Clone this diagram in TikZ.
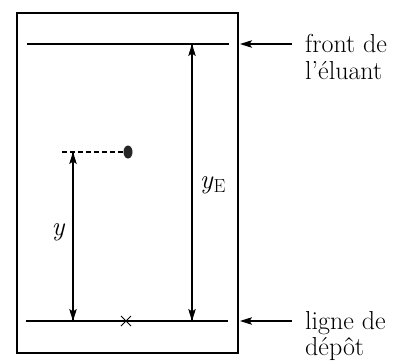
\documentclass[tikz,border=0pt]{standalone}
\usepackage{fontspec}
\usetikzlibrary{arrows.meta,shapes.geometric,calc}
\begin{document}
\begin{tikzpicture}[x=1pt,y=-1pt,
  tip/.style={-{Stealth[length=12pt,width=7.5pt,inset=2.5pt]}},
  lbl/.style={anchor=base west,inner sep=0pt,font=\fontsize{26}{30}\selectfont},
  lw/.style={line width=1.1pt}]
\useasboundingbox (0,0) rectangle (402,360);
\draw[lw] (17,13) rectangle (238,353);
% lines
\coordinate (fl) at (27,44); \coordinate (fr) at (229,44);
\coordinate (dl) at (26,321); \coordinate (dr) at (228,321);
\draw[lw] (fl) -- (fr);
\draw[lw] (dl) -- (dr);
% spot
\node[draw=none,fill=black!85,ellipse,minimum width=9pt,minimum height=13pt,inner sep=0pt] (spot) at (128,152) {};
\coordinate (dash0) at (62,152);
\draw[lw,dash pattern=on 5pt off 3pt] (dash0) -- (spot.west);
% cross
\coordinate (cross) at (126,321);
\draw[line width=1pt] ($(cross)+(-5,-5)$) -- ($(cross)+(5,5)$);
\draw[line width=1pt] ($(cross)+(-5,5)$) -- ($(cross)+(5,-5)$);
% arrows
\coordinate (ya) at (73,152); \coordinate (yb) at (73,321);
\draw[lw,tip] (ya) -- (yb);
\draw[lw,tip] (yb) -- (ya);
\coordinate (ea) at (192,44); \coordinate (eb) at (192,321);
\draw[lw,tip] (ea) -- (eb);
\draw[lw,tip] (eb) -- (ea);
\node[font=\fontsize{27}{27}\selectfont\itshape] (ylab) at (58,232) {y};
\node[font=\fontsize{27}{27}\selectfont] (yelab) at (213,185) {\textit{y}\textsubscript{E}};
% side arrows
\coordinate (a1s) at (292,44); \coordinate (a1e) at (240,44);
\coordinate (a2s) at (292,321); \coordinate (a2e) at (240,321);
\draw[lw,tip] (a1s) -- (a1e);
\draw[lw,tip] (a2s) -- (a2e);
\node[lbl] (t1) at (305,52) {front de};
\node[lbl] (t2) at (305,79) {l'éluant};
\node[lbl] (t3) at (305,329) {ligne de};
\node[lbl] (t4) at (305,355) {dépôt};
\end{tikzpicture}
\end{document}
